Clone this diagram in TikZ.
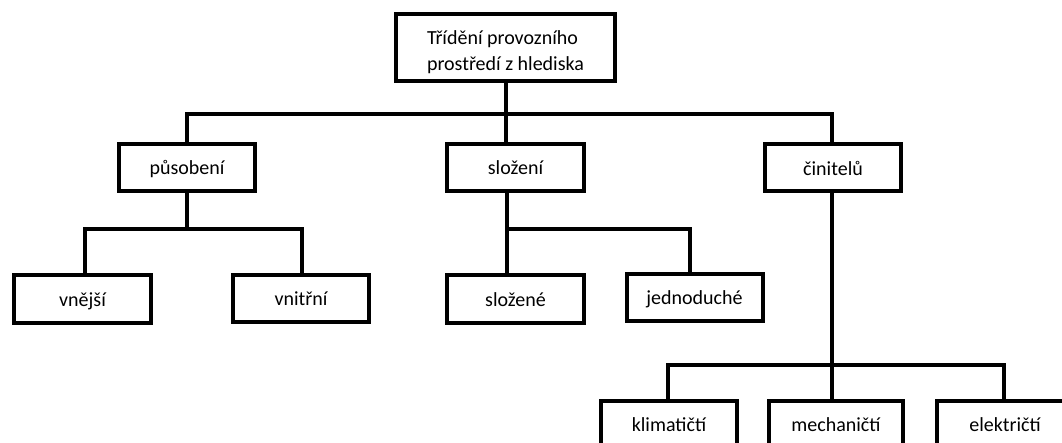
\documentclass[tikz,border=0pt]{standalone}
\usepackage{fontspec}
\setmainfont{Carlito}
\usetikzlibrary{positioning}
\tikzset{box/.style = {draw, line width = 4pt, minimum width = 136pt,
minimum height = 47pt, inner sep = 0pt, font = \fontsize{20}{26}\selectfont},
word/.style = {text height = 18pt, text depth = 3pt}}

\begin{document}
\begin{tikzpicture}[x = 1pt, y = -1pt, line width = 4pt]
\clip (0,0) rectangle (1062,443);
% boxes
\node[box, minimum width = 219pt, minimum height = 67pt, align = left] (Trideni)
at (505.5,47.5) {\rule{0pt}{23pt}Třídění provozního\\prostředí z hlediska};
\node[box, word] (Pusobeni) at (187,167.5) {působení};
\node[box, word, minimum width = 137pt] (Slozeni) at (515.5,167.5) {složení};
\node[box, word] (Cinitelu) at (833,168) {činitelů};
\node[box, word, minimum width = 137pt, minimum height = 48pt] (Vnejsi)
at (82.5,299) {vnější};
\node[box, word] (Vnitrni) at (301,298.5) {vnitřní};
\node[box, word, minimum width = 137pt, minimum height = 48pt] (Slozene)
at (515.5,299) {složené};
\node[box, word] (Jednoduche) at (694.5,297.5) {jednoduché};
\node[box, word] (Klimaticti) at (669,424) {klimatičtí};
\node[box, word, minimum width = 134pt] (Mechanicti) at (836,424) {mechaničtí};
\node[box, word] (Elektricti) at (1005,424) {električtí};
% junctions
\coordinate (J0) at (506,114.5);
\coordinate (J1) at (187,229);
\coordinate (J2) at (507,229);
\coordinate (J3) at (832,365);
% lines
\draw (Trideni.south -| J0) -- (J0);
\draw (Pusobeni.north) |- (J0) -| (Cinitelu.north -| J3);
\draw (J0) -- (Slozeni.north -| J0);
\draw (Pusobeni.south) -- (J1);
\draw (Vnejsi.north -| 85,0) |- (J1) -| (Vnitrni.north -| 302,0);
\draw (Slozeni.south -| J2) -- (Slozene.north -| J2);
\draw (J2) -| (Jednoduche.north -| 690,0);
\draw (Cinitelu.south -| J3) -- (J3);
\draw (Klimaticti.north -| 668,0) |- (J3) -| (Elektricti.north -| 1004,0);
\draw (J3) -- (Mechanicti.north -| J3);
\end{tikzpicture}
\end{document}
